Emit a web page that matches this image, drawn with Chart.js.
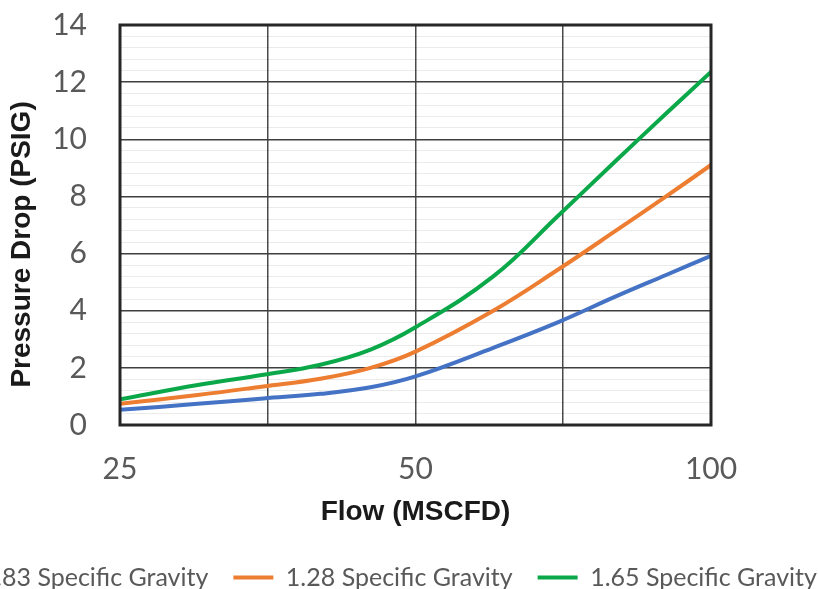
<!DOCTYPE html>
<html>
<head>
<meta charset="utf-8">
<script src="https://cdn.jsdelivr.net/npm/chart.js@4.4.1/dist/chart.umd.min.js"></script>
<style>
    html, body { margin: 0; padding: 0; background: #fff; }
    body { width: 818px; height: 589px; overflow: hidden; position: relative; }
    #pressure-chart { position: absolute; left: -120px; top: 0; }
</style>
</head>
<body>
<canvas id="pressure-chart" width="1000" height="620"></canvas>
<script>
const flows = [25, 30, 35, 40, 45, 50, 60, 70, 80, 90, 100];

// Pressure drop (PSIG) per specific gravity
const sg083 = [0.53, 0.74, 0.93, 1.09, 1.32, 1.70, 2.70, 3.61, 4.50, 5.25, 5.92];
const sg128 = [0.74, 1.05, 1.35, 1.62, 2.00, 2.57, 4.00, 5.46, 6.80, 8.00, 9.10];
const sg165 = [0.90, 1.40, 1.76, 2.11, 2.64, 3.42, 5.20, 7.35, 9.25, 10.90, 12.36];

const seriesLabels = ['0.83 Specific Gravity', '1.28 Specific Gravity', '1.65 Specific Gravity'];
const seriesColors = ['#4472C4', '#ED7D31', '#0BA84A'];

// x axis: log scale, grid lines and which of them carry a label
const gridFlows = [25, 35.36, 50, 70.71, 100];
const labelFlows = [25, 50, 100];

// y axis: 0..14, major every 2, minor every 0.4
const yMin = 0;
const yMax = 14;
const yMinorStep = 0.4;
const yMajorStep = 2;

function isMajor(v) {
    return Math.abs(v / yMajorStep - Math.round(v / yMajorStep)) < 1e-6;
}

function toPoints(values) {
    return flows.map((f, i) => ({ x: f, y: values[i] }));
}

const tickFont = { family: "Lato, 'Open Sans', sans-serif", size: 30 };
const titleFont = { family: "'Liberation Sans', Arial, sans-serif", size: 28, weight: 'bold' };

// frame around the plot area
const plotFrame = {
    id: 'plotFrame',
    afterDatasetsDraw(chart) {
        const { ctx, chartArea } = chart;
        ctx.save();
        ctx.strokeStyle = '#262626';
        ctx.lineWidth = 3;
        ctx.strokeRect(chartArea.left, chartArea.top, chartArea.right - chartArea.left, chartArea.bottom - chartArea.top);
        ctx.restore();
    }
};

new Chart(document.getElementById('pressure-chart'), {
    type: 'line',
    data: {
        datasets: [sg083, sg128, sg165].map((values, i) => ({
            label: seriesLabels[i],
            data: toPoints(values),
            borderColor: seriesColors[i],
            backgroundColor: seriesColors[i],
            borderWidth: 4,
            pointRadius: 0,
            tension: 0.4,
            fill: false
        }))
    },
    options: {
        responsive: false,
        animation: false,
        layout: {
            padding: { left: 20, right: 34, top: 25, bottom: 20 }
        },
        plugins: {
            tooltip: { enabled: false },
            legend: {
                position: 'bottom',
                labels: {
                    usePointStyle: true,
                    pointStyle: 'line',
                    pointStyleWidth: 40,
                    padding: 25,
                    color: '#595959',
                    font: { family: "Lato, 'Open Sans', sans-serif", size: 25 }
                }
            }
        },
        scales: {
            x: {
                type: 'logarithmic',
                min: 25,
                max: 100,
                afterBuildTicks: (scale) => {
                    scale.ticks = gridFlows.map(v => ({ value: v }));
                },
                afterFit: (scale) => {
                    scale.height = 115;
                    scale.paddingLeft = 0;
                    scale.paddingRight = 169;
                },
                grid: {
                    color: '#4a4a4a',
                    lineWidth: 1.5,
                    drawTicks: false
                },
                border: { display: false },
                ticks: {
                    autoSkip: false,
                    maxRotation: 0,
                    padding: 26,
                    color: '#595959',
                    font: tickFont,
                    callback: (value) => labelFlows.includes(value) ? String(value) : ''
                },
                title: {
                    display: true,
                    text: 'Flow (MSCFD)',
                    color: '#1a1a1a',
                    font: titleFont,
                    padding: { top: 10, bottom: 11 }
                }
            },
            y: {
                min: yMin,
                max: yMax,
                afterFit: (scale) => {
                    scale.width = 220;
                    scale.paddingTop = 0;
                    scale.paddingBottom = 0;
                },
                grid: {
                    drawTicks: false,
                    color: (ctx) => isMajor(ctx.tick.value) ? '#3f3f3f' : 'rgba(0, 0, 0, 0.08)',
                    lineWidth: (ctx) => isMajor(ctx.tick.value) ? 1.5 : 1
                },
                border: { display: false },
                ticks: {
                    stepSize: yMinorStep,
                    autoSkip: false,
                    padding: 33,
                    color: '#595959',
                    font: tickFont,
                    callback: (value) => isMajor(value) ? String(Math.round(value)) : ''
                },
                title: {
                    display: true,
                    text: 'Pressure Drop (PSIG)     ',
                    color: '#1a1a1a',
                    font: titleFont,
                    padding: { top: 105, bottom: 0 }
                }
            }
        }
    },
    plugins: [plotFrame]
});
</script>
</body>
</html>
